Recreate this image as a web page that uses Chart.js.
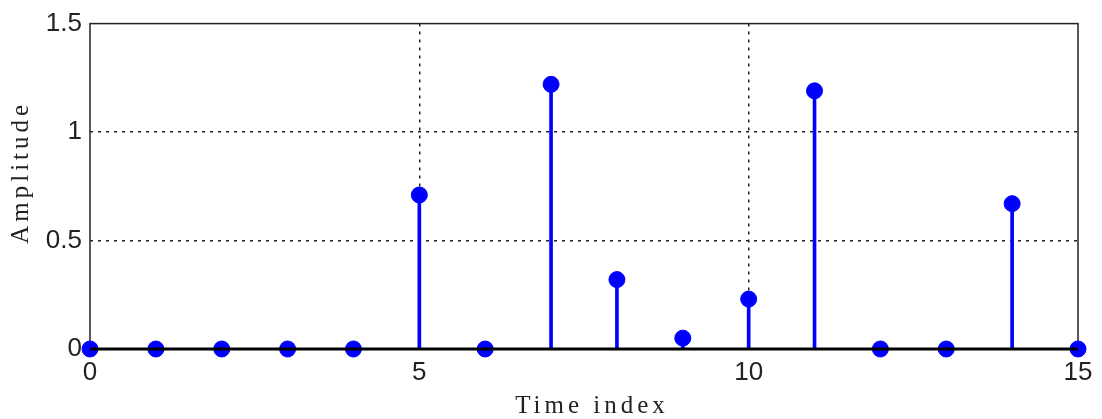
<!DOCTYPE html>
<html>
<head>
<meta charset="utf-8">
<script src="https://cdn.jsdelivr.net/npm/chart.js@4.4.1/dist/chart.umd.min.js"></script>
<style>
  html, body { margin: 0; padding: 0; background: #fff; }
  #wrap { width: 1102px; height: 419px; position: relative; }
</style>
</head>
<body>
<div id="wrap"><canvas id="stemChart"></canvas></div>
<script>
// stem plot: amplitude per time index
const timeIndex = [0, 1, 2, 3, 4, 5, 6, 7, 8, 9, 10, 11, 12, 13, 14, 15];
const amplitude = [0, 0, 0, 0, 0, 0.71, 0, 1.22, 0.32, 0.05, 0.23, 1.19, 0, 0, 0.67, 0];
const xTicks = [0, 5, 10, 15];
const yTicks = [0, 0.5, 1, 1.5];

const points = timeIndex.map((t, i) => ({ x: t, y: amplitude[i] }));
const blue = '#0000ff';

// frame round the plot area + spaced serif titles
const framePlugin = {
  id: 'frame',
  beforeDraw(chart) {
    Object.values(chart.scales).forEach(s => {
      if (s._wrappedTitle) return;
      const orig = s.drawTitle;
      s.drawTitle = function() {
        const ctx = this.ctx;
        ctx.save();
        ctx.letterSpacing = '4px';
        if (this.axis === 'y') ctx.translate(0, -14);
        else ctx.translate(8, 2);
        orig.apply(this, arguments);
        ctx.restore();
      };
      s._wrappedTitle = true;
    });
  },
  beforeDatasetsDraw(chart) {
    const { ctx, chartArea: a } = chart;
    ctx.save();
    ctx.strokeStyle = '#222';
    ctx.lineWidth = 1.5;
    ctx.strokeRect(a.left, a.top, a.right - a.left, a.bottom - a.top);
    ctx.restore();
  },
  afterDatasetsDraw(chart) {
    // zero axis line on top of stems
    const { ctx, chartArea: a, scales } = chart;
    const y0 = scales.y.getPixelForValue(0);
    ctx.save();
    ctx.strokeStyle = '#000';
    ctx.lineWidth = 3;
    ctx.beginPath();
    ctx.moveTo(a.left, y0);
    ctx.lineTo(a.right, y0);
    ctx.stroke();
    ctx.restore();
  }
};

const gridColor = (ctx) => {
  const v = ctx.tick ? ctx.tick.value : null;
  const max = ctx.scale.max, min = ctx.scale.min;
  return (v === min || v === max) ? 'rgba(0,0,0,0)' : '#222';
};

new Chart(document.getElementById('stemChart'), {
  data: {
    datasets: [
      {
        type: 'bar',
        data: points,
        backgroundColor: blue,
        borderWidth: 0,
        barThickness: 3,
        order: 2
      },
      {
        type: 'scatter',
        data: points,
        backgroundColor: blue,
        borderColor: blue,
        pointRadius: 8,
        pointHoverRadius: 8,
        clip: false,
        order: 1
      }
    ]
  },
  options: {
    responsive: true,
    maintainAspectRatio: false,
    animation: false,
    layout: { padding: { left: 0, right: 24, top: 21, bottom: 0 } },
    plugins: {
      legend: { display: false },
      tooltip: { enabled: false }
    },
    scales: {
      x: {
        type: 'linear',
        min: 0,
        max: 15,
        offset: false,
        afterBuildTicks: (s) => { s.ticks = xTicks.map(v => ({ value: v })); },
        afterFit: (s) => { s.height = 70; },
        border: { display: false, dash: [3, 5] },
        grid: {
          color: gridColor,
          lineWidth: 1.5,
          offset: false,
          drawTicks: false
        },
        ticks: {
          color: '#222',
          padding: 8,
          font: { family: 'Liberation Sans', size: 26 },
          maxRotation: 0
        },
        title: {
          display: true,
          text: 'Time index',
          color: '#222',
          padding: { top: 2, bottom: 0 },
          font: { family: 'Liberation Serif', size: 25 }
        }
      },
      y: {
        type: 'linear',
        min: 0,
        max: 1.5,
        afterBuildTicks: (s) => { s.ticks = yTicks.map(v => ({ value: v })); },
        afterFit: (s) => { s.width = 90; },
        border: { display: false, dash: [3, 5] },
        grid: {
          color: gridColor,
          lineWidth: 1.5,
          drawTicks: false
        },
        ticks: {
          color: '#222',
          padding: 8,
          font: { family: 'Liberation Sans', size: 26 },
          callback: (v) => String(v)
        },
        title: {
          display: true,
          text: 'Amplitude',
          color: '#222',
          padding: { top: 6, bottom: 8 },
          font: { family: 'Liberation Serif', size: 25 }
        }
      }
    }
  },
  plugins: [framePlugin]
});
</script>
</body>
</html>
